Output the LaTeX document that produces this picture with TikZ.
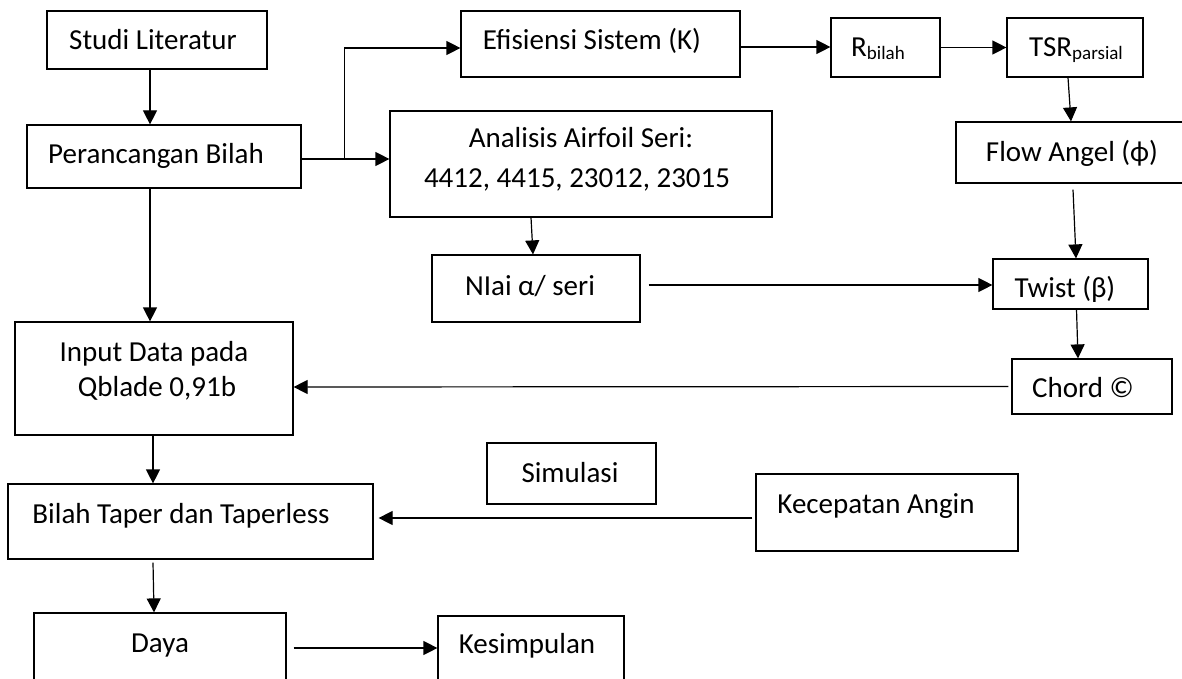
\documentclass[tikz,border=0pt]{standalone}
\usepackage{fontspec}
\setmainfont{Carlito}
\usetikzlibrary{arrows.meta}
\newcommand\subtxt[1]{\raisebox{-3pt}{\fontsize{19}{19}\selectfont #1}}
\begin{document}
\begin{tikzpicture}[x=1pt,y=-1pt,
  box/.style={draw=black, line width=1.2pt, inner sep=0pt},
  txt/.style={anchor=base, inner sep=0pt, font=\fontsize{29}{35}\selectfont},
  arr/.style={line width=1.2pt, -{Triangle[length=14pt,width=14pt]}},
  ln/.style={line width=1.2pt}]
\useasboundingbox (0,0) rectangle (1182,679);
\clip (0,0) rectangle (1182,679);
% boxes
\node[box, minimum width=220, minimum height=58]  (studi) at (157,40) {};
\node[box, minimum width=274, minimum height=63]  (per)   at (164,156.5) {};
\node[box, minimum width=279, minimum height=66]  (eff)   at (600.5,44) {};
\node[box, minimum width=109, minimum height=59]  (rb)    at (885.5,47.5) {};
\node[box, minimum width=136, minimum height=59]  (tsr)   at (1075,47.5) {};
\node[box, minimum width=382, minimum height=106] (ana)   at (581,164) {};
\node[box, minimum width=236, minimum height=61]  (flow)  at (1074,152.5) {};
\node[box, minimum width=208, minimum height=67]  (nilai) at (536,288.5) {};
\node[box, minimum width=155, minimum height=50]  (twist) at (1070.5,284) {};
\node[box, minimum width=278, minimum height=113] (input) at (154,378.5) {};
\node[box, minimum width=160, minimum height=55]  (chord) at (1092,386.5) {};
\node[box, minimum width=169, minimum height=61]  (sim)   at (571.5,473.5) {};
\node[box, minimum width=262, minimum height=77]  (kec)   at (887,512.5) {};
\node[box, minimum width=365, minimum height=75]  (bilah) at (190.5,521.5) {};
\node[box, minimum width=252, minimum height=87]  (daya)  at (160,656.5) {};
\node[box, minimum width=186, minimum height=84]  (kes)   at (531,658) {};
% texts
\node[txt] (studi-t) at (153,50) {Studi Literatur};
\node[txt] (per-t)   at (156,164) {Perancangan Bilah};
\node[txt] (eff-t)   at (592,50) {Efisiensi Sistem (K)};
\node[txt] (rb-t)    at (878,57) {R\subtxt{bilah}};
\node[txt] (tsr-t)   at (1076,57) {TSR\subtxt{parsial}};
\node[txt] (ana-t1)  at (581,148) {Analisis Airfoil Seri:};
\node[txt] (ana-t2)  at (577,187) {4412, 4415, 23012, 23015};
\node[txt] (flow-t)  at (1072,161) {Flow Angel (ϕ)};
\node[txt] (nilai-t) at (530,295) {NIai α/ seri};
\node[txt] (twist-t) at (1065,297) {Twist (β)};
\node[txt] (input-t1) at (154,361) {Input Data pada};
\node[txt] (input-t2) at (157,396) {Qblade 0,91b};
\node[txt] (chord-t) at (1083,397) {Chord ©};
\node[txt] (sim-t)   at (570,482) {Simulasi};
\node[txt] (kec-t)   at (876,513) {Kecepatan Angin};
\node[txt] (bilah-t) at (181,523) {Bilah Taper dan Taperless};
\node[txt] (daya-t)  at (160,652) {Daya};
\node[txt] (kes-t)   at (527,653) {Kesimpulan};
% connectors
\draw[arr] ([xshift=-7pt]studi.south) -- ([xshift=-14pt]per.north);
\draw[arr] ([yshift=-2.5pt]per.east) -- ([yshift=5pt]ana.west);
\coordinate (br) at ([xshift=43pt,yshift=-2.5pt]per.east);
\draw[arr] (br) |- ([yshift=-4pt]eff.west);
\draw[arr] ([xshift=-50pt]ana.south) -- ([xshift=-3pt]nilai.north);
\draw[arr] ([xshift=-14pt]per.south) -- ([xshift=-4pt]input.north);
\draw[arr] ([yshift=-3pt]eff.east) -- ([yshift=0.5pt]rb.west);
\draw[arr] (rb.east) -- (tsr.west);
\draw[arr] ([xshift=-7pt]tsr.south) -- ([xshift=-3pt]flow.north);
\draw[arr] ([xshift=-1pt,yshift=-6pt]flow.south) -- ([xshift=5.5pt]twist.north);
\draw[arr] ([xshift=8pt,yshift=3.5pt]nilai.east) -- ([yshift=-1pt]twist.west);
\draw[arr] ([xshift=6pt]twist.south) -- ([xshift=-14pt]chord.north);
\draw[arr] ([xshift=-3pt]chord.west) -- ([yshift=-8.5pt]input.east);
\draw[arr] ([xshift=-3pt,yshift=-5.5pt]kec.west) -- ([xshift=5pt,yshift=3.5pt]bilah.east);
\draw[arr] ([xshift=-1pt]input.south) -- ([xshift=-37.5pt]bilah.north);
\draw[arr] ([xshift=-37.5pt,yshift=-3pt]bilah.south) -- ([xshift=-6pt]daya.north);
\draw[arr] ([xshift=7pt,yshift=8.5pt]daya.east) -- ([yshift=10pt]kes.west);
\end{tikzpicture}
\end{document}
